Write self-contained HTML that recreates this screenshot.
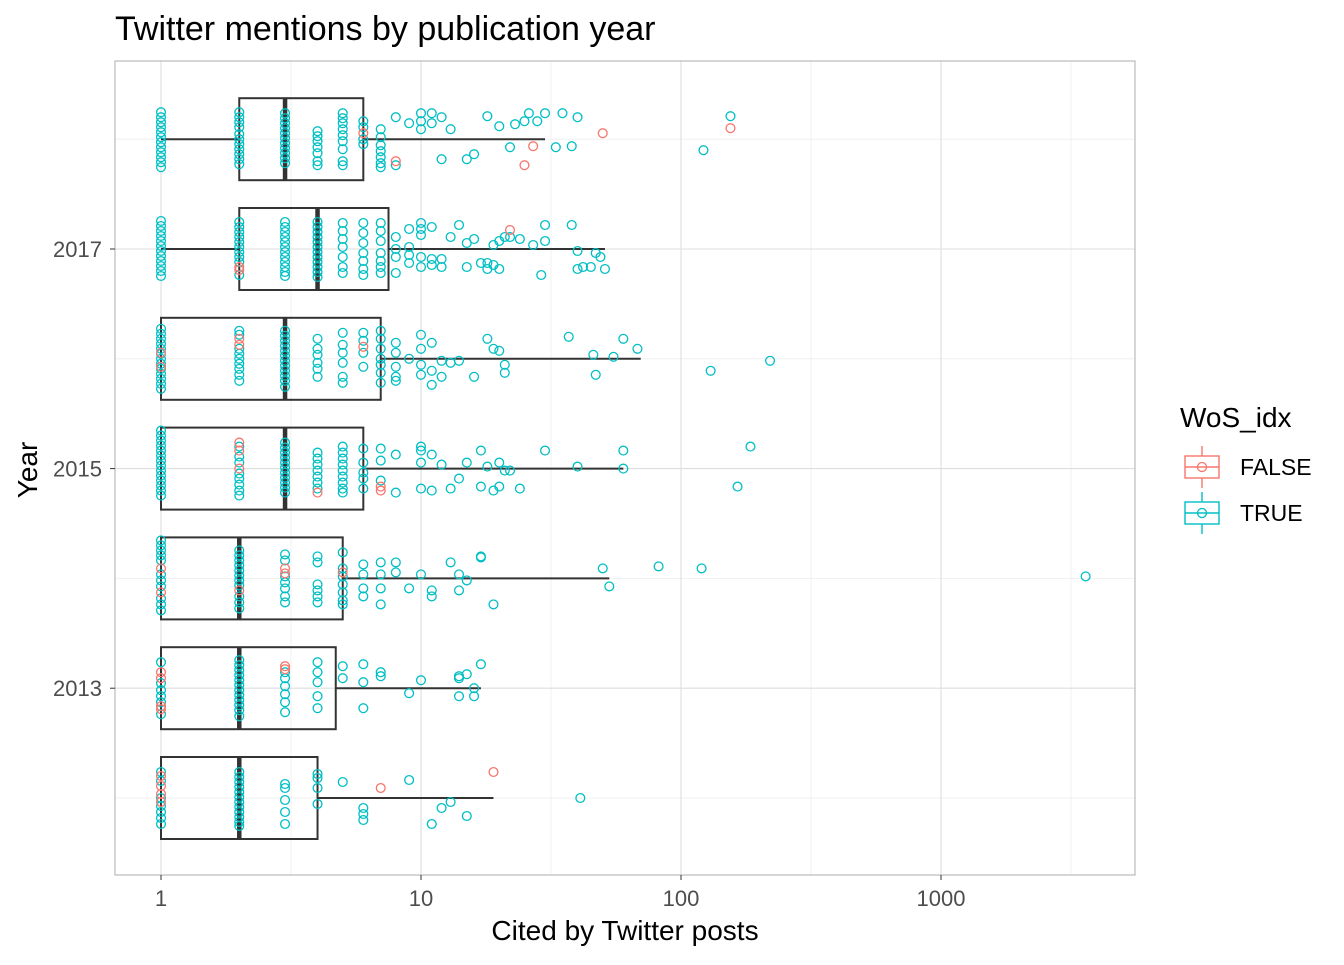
<!DOCTYPE html>
<html><head><meta charset="utf-8"><style>
body{margin:0;background:#fff;}
svg text{font-family:"Liberation Sans",Arial,sans-serif;}
</style></head><body>
<svg id="chart" width="1344" height="960" xmlns="http://www.w3.org/2000/svg">
<rect width="1344" height="960" fill="#fff"/>
<text x="115" y="40" font-size="34" fill="#000">Twitter mentions by publication year</text>
<g id="grid"></g>
<g id="boxes"></g>
<g id="points"></g>
<rect x="115" y="61" width="1020" height="814" fill="none" stroke="#b3b3b3" stroke-width="1.1"/>
<g id="axes"></g>
<text x="625" y="940" font-size="28" text-anchor="middle">Cited by Twitter posts</text>
<text transform="translate(37,470) rotate(-90)" font-size="28" text-anchor="middle">Year</text>
<g>
<text x="1180" y="427" font-size="28">WoS_idx</text>
<g>
<line x1="1202" y1="446" x2="1202" y2="488" stroke="#F8766D" stroke-width="1.4"/>
<rect x="1185" y="456" width="34" height="22" fill="#fff" stroke="#F8766D" stroke-width="1.4"/>
<line x1="1185" y1="467" x2="1219" y2="467" stroke="#F8766D" stroke-width="1.4"/>
<circle cx="1202" cy="467" r="4.5" fill="none" stroke="#F8766D" stroke-width="1.3"/>
<text x="1240" y="475" font-size="23">FALSE</text></g>
<g>
<line x1="1202" y1="492" x2="1202" y2="534" stroke="#00BFC4" stroke-width="1.4"/>
<rect x="1185" y="502" width="34" height="22" fill="#fff" stroke="#00BFC4" stroke-width="1.4"/>
<line x1="1185" y1="513" x2="1219" y2="513" stroke="#00BFC4" stroke-width="1.4"/>
<circle cx="1202" cy="513" r="4.5" fill="none" stroke="#00BFC4" stroke-width="1.3"/>
<text x="1240" y="521" font-size="23">TRUE</text></g>
</g>
</svg>
<script>
const NS='http://www.w3.org/2000/svg';
const xTicks=[1,10,100,1000];
const xTickLabels=['1','10','100','1000'];
const yearsAll=[2012,2013,2014,2015,2016,2017,2018];
const yTicks=[2013,2015,2017];
const boxYears=[2012,2013,2014,2015,2016,2017,2018];
const boxLow=[1,1,1,1,1,1,1];
const boxQ1=[1,1,1,1,1,2,2];
const boxMed=[2,2,2,3,3,4,3];
const boxQ3=[4,4.7,5,6,7,7.5,6];
const boxHigh=[19,17,53,60,70,51,30];
// points: "value|pixel jitter offsets|flag(T/F)"
const pts2018=["1|-27 -22 -17 -12 -7 -2 3 8 13 18 23 28|T","2|-27 -22 -17 -12 -5 0 5 10 15 20 25|T","3|-26 -21 -16 -11 -6 -1 4 9 14 19 24|T","4|-8 -3 2 8 14 22 26|T","5|-26 -21 -16 -10 -4 2 10 22 26|T","6|-18 -12 0 5|T","7|-10 -2 6 12 18 24 28|T","8|-22 26|T","9|-16|T","10|-26 -18 -10|T","11|-26 -16|T","12|-22 20|T","13|-10|T","15|20|T","16|15|T","18|-23|T","20|-13|T","22|8|T","23|-15|T","25|-18|T","26|-26|T","28|-18|T","30|-26|T","33|8|T","35|-26|T","38|7|T","40|-22|T","122|11|T","155|-23|T","50|-6|F","27|7|F","25|26|F","155|-11|F","6|-6|F","8|22|F"];
const pts2017=["1|-28 -23 -18 -13 -8 -3 2 7 12 17 22 27|T","2|-27 -22 -17 -12 -7 -2 3 8 13 26|T","2|18 21|F","3|-27 -22 -17 -12 -7 -2 3 8 13 18 23 27|T","4|-27 -22 -17 -12 -7 -2 3 8 13 18 23 28|T","5|-26 -18 -10 -2 8 18 24|T","6|-26 -16 -6 4 12 20 26|T","7|-26 -18 -8 4 12 18 24|T","8|-12 0 8 24|T","9|-20 -2 6 14|T","10|-26 -20 -14 8 18|T","11|-22 10 16|T","12|10 18|T","13|-12|T","14|-24|T","15|-6 18|T","16|-10|T","17|14|T","18|14 20|T","19|-4 16|T","20|-8 20|T","21|-12|T","22|-12|T","22|-19|F","24|-10|T","27|-4|T","30|-24 -8|T","29|26|T","38|-24|T","40|2 20|T","42|18|T","45|18|T","47|4|T","49|8|T","51|20|T"];
const pts2016=["1|-30 -25 -20 -15 -10 -5 0 5 10 15 20 25 30|T","1|-6 8|F","2|-28 -24 -10 -5 0 5 10 16 22|T","2|-20 -14|F","3|-28 -23 -18 -13 -8 -3 2 7 12 17 22 28|T","4|-20 -10 -4 4 10 18|T","5|-26 -14 -6 4 18 24|T","6|-26 -18 -6 8|T","6|-12|F","7|-28 -20 -10 0 6 14 24|T","8|-16 -6 8 18 22|T","9|0|T","10|-24 -10 6 16|T","11|-16 12 26|T","12|2 18|T","13|4|T","14|2|T","16|18|T","18|-20|T","19|-10|T","20|-8|T","21|6 14|T","37|-22|T","46|-4|T","47|16|T","55|-2|T","60|-20|T","68|-10|T","130|12|T","220|2|T"];
const pts2015=["1|-38 -33 -28 -23 -18 -13 -8 -3 2 7 12 17 22 27|T","2|-22 -12 -6 5 10 16 22 27|T","2|-26 -18 0|F","3|-26 -21 -16 -11 -6 -1 4 9 14 19 24|T","4|-16 -10 -4 2 8 14 20|T","4|24|F","5|-22 -16 -10 -4 2 8 14 20 24|T","6|-20 -6 4 10 20|T","7|-20 -8 12|T","7|18 22|F","8|-14 24|T","10|-22 -18 -6 20|T","11|-14 22|T","12|-4|T","13|20|T","14|10|T","15|-6|T","17|-18 18|T","18|-2|T","19|22|T","20|-6 18|T","21|2|T","22|2|T","24|20|T","30|-18|T","40|-2|T","60|-18 0|T","185|-22|T","165|18|T"];
const pts2014=["1|-38 -33 -28 -23 -18 -4 2 8 20 26 32|T","1|-10 14|F","2|-28 -23 -18 -13 -8 -3 2 7 18 24 30|T","2|12|F","3|-24 -18 -2 4 10 18 24|T","3|-10 -5|F","4|-22 -16 6 12 18 24|T","5|-26 -10 -2 6 14 22 26|T","5|-6|F","6|-14 -4 10 18|T","7|-16 -4 10 26|T","8|-16 -6|T","9|10|T","10|-4|T","11|12 18|T","13|-16|T","14|-4 12|T","15|2|T","17|-22 -21|T","19|26|T","50|-10|T","53|8|T","82|-12|T","120|-10|T","3600|-2|T"];
const pts2013=["1|-26 -5 2 8 14 26|T","1|-16 -10 18 21|F","2|-28 -23 -18 -13 -8 -3 2 7 12 17 22 28|T","3|-16 -10 -2 6 14 24|T","3|-22 -19|F","4|-26 -16 -6 8 20|T","5|-22 -10|T","6|-24 -6 20|T","7|-12 -16|T","9|5|T","10|-8|T","14|-12 -10 8|T","15|-14|T","16|0 8|T","17|-24|T"];
const pts2012=["1|-26 -17 0 8 14 20 26|T","1|-22 -12 -4 4|F","2|-26 -21 -16 -11 -6 -1 4 9 14 19 24 28|T","3|-14 -10 2 14 26|T","4|-24 -20 -10 6|T","5|-16|T","6|10 16 22|T","7|-10|F","9|-18|T","11|26|T","12|10|T","13|4|T","15|18|T","19|-26|F","41|0|T"];
const pointSets=[pts2012,pts2013,pts2014,pts2015,pts2016,pts2017,pts2018];

function xs(v){return 161+260*Math.log10(v);}
function ys(yr){return 249+(2017-yr)*109.8;}
function mk(tag,attrs,parent){const e=document.createElementNS(NS,tag);for(const k in attrs)e.setAttribute(k,attrs[k]);parent.appendChild(e);return e;}
const grid=document.getElementById('grid'),boxes=document.getElementById('boxes'),points=document.getElementById('points'),axes=document.getElementById('axes');
xTicks.forEach(t=>{const x=xs(t*Math.sqrt(10));if(x<1135){const l=mk('line',{x1:x,x2:x,y1:61,y2:875,stroke:'#ededed','stroke-width':0.8},grid);

}});
yearsAll.forEach(yr=>{const y=ys(yr);const major=yTicks.includes(yr);const l=mk('line',{x1:115,x2:1135,y1:y,y2:y,stroke:major?'#dedede':'#ededed','stroke-width':major?1.1:0.8},grid);

});
xTicks.forEach((t,i)=>{const x=xs(t);const l=mk('line',{x1:x,x2:x,y1:61,y2:875,stroke:'#dedede','stroke-width':1.1},grid);


const tk=mk('line',{x1:x,x2:x,y1:875,y2:880,stroke:'#333','stroke-width':1},axes);


const tx=mk('text',{x:x,y:906,'font-size':22,'text-anchor':'middle',fill:'#4d4d4d'},axes);tx.textContent=xTickLabels[i];

});
yTicks.forEach(yr=>{const y=ys(yr);const tk=mk('line',{x1:110,x2:115,y1:y,y2:y,stroke:'#333','stroke-width':1},axes);


const tx=mk('text',{x:102,y:y+8,'font-size':22,'text-anchor':'end',fill:'#4d4d4d'},axes);tx.textContent=yr;

});
boxYears.forEach((yr,i)=>{const y=ys(yr),h=41;const g=mk('g',{},boxes);


mk('line',{x1:xs(boxLow[i]),x2:xs(boxQ1[i]),y1:y,y2:y,stroke:'#333','stroke-width':2},g);
mk('line',{x1:xs(boxQ3[i]),x2:xs(boxHigh[i]),y1:y,y2:y,stroke:'#333','stroke-width':2},g);
mk('rect',{x:xs(boxQ1[i]),y:y-h,width:xs(boxQ3[i])-xs(boxQ1[i]),height:2*h,fill:'none',stroke:'#333','stroke-width':2},g);
mk('line',{x1:xs(boxMed[i]),x2:xs(boxMed[i]),y1:y-h,y2:y+h,stroke:'#333','stroke-width':4.5},g);});
pointSets.forEach((set,i)=>{const yr=yearsAll[i];set.forEach(s=>{const [v,offs,f]=s.split('|');offs.split(' ').forEach(o=>{
const c=mk('circle',{cx:xs(+v),cy:ys(yr)+(+o),r:4.4,fill:'none',stroke:f==='T'?'#00BFC4':'#F8766D','stroke-width':1.3},points);

});});});
</script>
</body></html>
